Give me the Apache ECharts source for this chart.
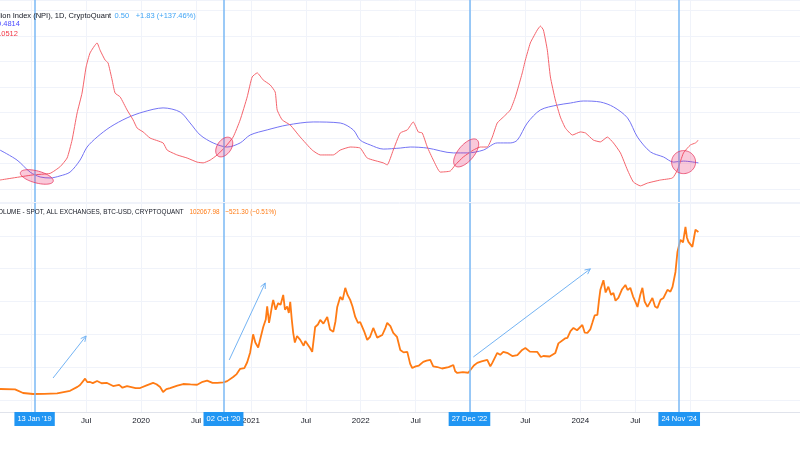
<!DOCTYPE html>
<html><head><meta charset="utf-8">
<script src="https://cdn.jsdelivr.net/npm/echarts@6/dist/echarts.min.js"></script>
<style>html,body{margin:0;padding:0;background:#fff}#c{width:800px;height:450px}</style>
</head><body><div id="c"></div>
<script>
// ---- data (x = decimal year) ----
const npiSeries = [[2018.715,-0.64],[2019.016,-0.44],[2019.171,-0.38],[2019.262,-0.12],[2019.326,0.22],[2019.371,0.92],[2019.417,1.98],[2019.462,2.76],[2019.499,3.78],[2019.535,4.33],[2019.599,4.72],[2019.626,4.44],[2019.672,4.05],[2019.699,3.94],[2019.736,3.27],[2019.763,2.76],[2019.809,2.61],[2019.872,2.10],[2019.927,1.71],[2019.964,1.39],[2020.018,1.24],[2020.082,1.00],[2020.200,0.81],[2020.237,0.53],[2020.328,0.34],[2020.419,0.22],[2020.510,0.06],[2020.565,0.03],[2020.629,0.14],[2020.693,0.34],[2020.765,0.65],[2020.838,1.04],[2020.902,1.71],[2020.966,2.61],[2021.011,3.39],[2021.057,3.55],[2021.112,3.27],[2021.175,3.08],[2021.221,2.80],[2021.239,2.10],[2021.285,1.71],[2021.358,1.51],[2021.449,1.04],[2021.558,0.53],[2021.631,0.34],[2021.750,0.34],[2021.813,0.53],[2021.904,0.65],[2021.995,0.61],[2022.059,0.22],[2022.205,0.03],[2022.241,-0.05],[2022.296,0.53],[2022.360,1.20],[2022.424,1.32],[2022.478,1.63],[2022.524,1.24],[2022.560,1.20],[2022.606,0.65],[2022.661,0.14],[2022.724,-0.33],[2022.815,-0.29],[2022.861,-0.05],[2022.934,0.26],[2023.025,0.53],[2023.088,0.65],[2023.152,0.65],[2023.198,1.04],[2023.243,1.59],[2023.298,1.82],[2023.362,2.10],[2023.408,2.61],[2023.435,3.00],[2023.471,3.55],[2023.499,4.05],[2023.544,4.72],[2023.572,4.95],[2023.608,5.23],[2023.636,5.38],[2023.663,5.23],[2023.699,4.44],[2023.727,3.39],[2023.772,2.49],[2023.818,1.82],[2023.864,1.39],[2023.928,1.12],[2024.000,1.24],[2024.046,1.20],[2024.119,0.92],[2024.182,0.85],[2024.246,1.04],[2024.301,0.81],[2024.365,0.42],[2024.429,-0.25],[2024.483,-0.72],[2024.547,-0.87],[2024.611,-0.76],[2024.729,-0.64],[2024.839,-0.56],[2024.884,-0.25],[2024.939,0.42],[2025.002,0.73],[2025.048,0.81],[2025.075,0.92]];
const npiAvgSeries = [[2018.715,0.53],[2018.870,0.14],[2018.989,-0.33],[2019.080,-0.52],[2019.171,-0.56],[2019.262,-0.48],[2019.353,-0.33],[2019.444,0.14],[2019.508,0.65],[2019.599,1.04],[2019.718,1.43],[2019.872,1.79],[2020.018,2.02],[2020.200,2.18],[2020.355,2.02],[2020.446,1.59],[2020.538,1.12],[2020.656,0.81],[2020.784,0.65],[2020.902,0.81],[2020.993,1.12],[2021.148,1.32],[2021.330,1.51],[2021.567,1.63],[2021.813,1.59],[2021.932,1.32],[2021.995,0.92],[2022.087,0.73],[2022.205,0.57],[2022.360,0.61],[2022.451,0.65],[2022.606,0.61],[2022.843,0.42],[2022.970,0.42],[2023.116,0.53],[2023.243,0.81],[2023.362,0.81],[2023.426,0.92],[2023.517,1.59],[2023.636,2.10],[2023.790,2.29],[2023.909,2.37],[2024.027,2.45],[2024.182,2.41],[2024.301,2.22],[2024.429,1.79],[2024.520,1.04],[2024.638,0.46],[2024.757,0.26],[2024.848,0.06],[2024.939,0.10],[2025.075,0.03]];
const btcSeries = [[2018.715,6700],[2018.852,6500],[2018.925,4270],[2019.016,3660],[2019.120,3700],[2019.235,4100],[2019.353,5600],[2019.420,8000],[2019.444,9150],[2019.490,13000],[2019.510,10900],[2019.535,11000],[2019.560,10300],[2019.599,11600],[2019.640,10200],[2019.690,10400],[2019.745,8500],[2019.800,9200],[2019.830,7500],[2019.872,8500],[2019.950,7200],[2019.991,7300],[2020.050,8900],[2020.109,10400],[2020.140,9600],[2020.173,7900],[2020.200,4900],[2020.230,6600],[2020.264,7300],[2020.330,8800],[2020.383,9750],[2020.450,9500],[2020.510,9300],[2020.560,11100],[2020.601,11800],[2020.650,10400],[2020.693,10500],[2020.750,10700],[2020.784,11500],[2020.838,14000],[2020.870,15800],[2020.902,19000],[2020.940,19400],[2020.966,23000],[2020.993,29000],[2021.020,40000],[2021.040,35000],[2021.066,32000],[2021.090,38500],[2021.112,44500],[2021.135,49000],[2021.148,57000],[2021.165,47000],[2021.175,50600],[2021.195,58500],[2021.203,61000],[2021.225,55000],[2021.248,59000],[2021.270,58000],[2021.294,64000],[2021.310,55000],[2021.330,57000],[2021.345,53000],[2021.358,59800],[2021.372,49000],[2021.385,40900],[2021.400,35000],[2021.420,39000],[2021.449,36600],[2021.480,33000],[2021.495,36000],[2021.512,34800],[2021.540,31500],[2021.558,29300],[2021.585,44500],[2021.610,46000],[2021.631,48800],[2021.660,46500],[2021.695,50600],[2021.720,43000],[2021.750,41500],[2021.770,48000],[2021.786,56700],[2021.813,62800],[2021.835,61000],[2021.859,68300],[2021.880,64000],[2021.904,61000],[2021.925,57000],[2021.950,50600],[2021.975,47000],[2021.995,47500],[2022.030,42000],[2022.059,36600],[2022.085,38500],[2022.114,43900],[2022.150,38000],[2022.196,39600],[2022.225,44000],[2022.241,47000],[2022.270,45000],[2022.296,40900],[2022.330,38500],[2022.360,30500],[2022.390,29000],[2022.424,29300],[2022.450,22000],[2022.469,19500],[2022.500,20500],[2022.530,21000],[2022.569,23200],[2022.600,24000],[2022.633,24400],[2022.660,20500],[2022.697,20100],[2022.740,19200],[2022.800,20000],[2022.843,21300],[2022.860,17500],[2022.879,16500],[2022.930,17000],[2022.979,16600],[2023.030,21000],[2023.061,22600],[2023.100,23500],[2023.152,24400],[2023.180,20500],[2023.198,22600],[2023.243,28700],[2023.270,27500],[2023.298,29300],[2023.340,28500],[2023.380,26800],[2023.426,27400],[2023.470,30500],[2023.499,31700],[2023.540,29500],[2023.608,29300],[2023.640,26200],[2023.663,26800],[2023.720,26500],[2023.772,28700],[2023.800,34500],[2023.818,35400],[2023.860,37500],[2023.882,37800],[2023.910,42000],[2023.937,43900],[2023.970,42500],[2024.018,45700],[2024.040,41000],[2024.064,40900],[2024.090,43000],[2024.109,47000],[2024.130,51500],[2024.155,51800],[2024.170,61000],[2024.182,67100],[2024.210,73000],[2024.230,65500],[2024.255,69000],[2024.280,64000],[2024.301,65200],[2024.320,60500],[2024.346,62200],[2024.380,67500],[2024.410,70100],[2024.430,67000],[2024.455,68300],[2024.480,63000],[2024.500,60000],[2024.520,56700],[2024.545,64000],[2024.565,68300],[2024.585,60000],[2024.611,56700],[2024.630,59000],[2024.656,62200],[2024.680,57000],[2024.702,56100],[2024.730,61000],[2024.757,62200],[2024.793,67100],[2024.820,66000],[2024.839,68900],[2024.866,78000],[2024.884,90200],[2024.911,97600],[2024.935,96000],[2024.957,105500],[2024.970,99000],[2024.984,96300],[2025.000,97500],[2025.020,93300],[2025.035,99000],[2025.048,103700],[2025.075,102400]];

// event markers (decimal year) and their labels
const eventYears = [2019.033, 2020.751, 2022.986, 2024.896];
const eventLabels = ["13 Jan '19", "02 Oct '20", "27 Dec '22", "24 Nov '24"];
// highlighted crossings [year, NPI value]
const crossCenters = [[2019.05,-0.52],[2020.757,0.65],[2022.96,0.42],[2024.94,0.06]];
// trend arrows [startYear, startPrice, endYear, endPrice]
const trendArrows = [[2019.198,13400,2019.499,39000],[2020.802,24400,2021.130,71300],[2023.025,26200,2024.091,79900]];
const monthTick = 'Jul';
const lastLabeledYear = 2025; // time scale labels/grid stop after data

// ---- styles ----
const ellipseShapes = [[17,6,15],[11,7,-55],[17,8,-50],[12,11.5,0]]; // rx, ry, rotation(deg)
const FONT = 'Liberation Sans';
const LEFT = -23.6;
const gridColor = '#f0f3fa';
const vLine = {color:'#7ab8f5', width:1.5, type:'solid'};
const X_MIN = 2018.5, X_MAX = 2026, X_STEP = 0.5;
const vGridColors = [];
for (let t = X_MIN; t <= X_MAX + 1e-9; t += X_STEP) vGridColors.push(t > lastLabeledYear + 0.1 ? 'rgba(0,0,0,0)' : gridColor);

const chart = echarts.init(document.getElementById('c'));
const xCommon = {type:'value', min:X_MIN, max:X_MAX, interval:X_STEP, axisTick:{show:false},
  splitLine:{show:true, lineStyle:{color:vGridColors, width:1}}};
chart.setOption({
  animation:false,
  backgroundColor:'#ffffff',
  grid:[
    {left:LEFT, right:0, top:0, height:202, outerBoundsMode:'none'},
    {left:LEFT, right:0, top:203, height:209, outerBoundsMode:'none'}
  ],
  xAxis:[
    Object.assign({gridIndex:0, axisLine:{show:false, onZero:false}, axisLabel:{show:false}}, xCommon),
    Object.assign({gridIndex:1, axisLine:{show:true, onZero:false, lineStyle:{color:'#e0e3eb'}},
      axisLabel:{show:true, showMinLabel:false, showMaxLabel:false, color:'#131722', fontSize:8, fontFamily:FONT, margin:5,
        formatter:v => v > lastLabeledYear + 0.1 ? '' : (Math.abs(v - Math.round(v)) < 1e-6 ? String(Math.round(v)) : monthTick)}}, xCommon)
  ],
  yAxis:[
    {type:'value', gridIndex:0, min:-1.5, max:6.4, splitNumber:8, axisLine:{show:false}, axisTick:{show:false}, axisLabel:{show:false},
      splitLine:{lineStyle:{color:gridColor}}},
    {type:'value', gridIndex:1, min:-7300, max:120000, splitNumber:6, axisLine:{show:false}, axisTick:{show:false}, axisLabel:{show:false},
      splitLine:{lineStyle:{color:gridColor}}}
  ],
  series:[
    {type:'line', name:'NPI avg', xAxisIndex:0, yAxisIndex:0, data:npiAvgSeries, showSymbol:false, smooth:0.3,
      lineStyle:{color:'#7474f4', width:1}, z:3},
    {type:'line', name:'NPI', xAxisIndex:0, yAxisIndex:0, data:npiSeries, showSymbol:false, smooth:0.15,
      lineStyle:{color:'#f4646c', width:1}, z:4,
      markLine:{silent:true, symbol:['none','none'], label:{show:false}, lineStyle:vLine,
        data:eventYears.map(y => ({xAxis:y}))}},
    {type:'custom', name:'crossings', xAxisIndex:0, yAxisIndex:0, z:6,
      data:crossCenters.map((c,i) => [c[0], c[1], i]),
      renderItem:(params, api) => {
        const c = api.coord([api.value(0), api.value(1)]);
        const s = ellipseShapes[api.value(2)];
        const r = s[2]*Math.PI/180, pts = [];
        for (let k = 0; k < 60; k++) {
          const t = k/60*2*Math.PI, ex = s[0]*Math.cos(t), ey = s[1]*Math.sin(t);
          pts.push([c[0] + ex*Math.cos(r) - ey*Math.sin(r), c[1] + ex*Math.sin(r) + ey*Math.cos(r)]);
        }
        return {type:'polygon', shape:{points:pts}, style:{fill:'rgba(233,30,99,0.24)', stroke:'rgba(230,50,90,0.75)', lineWidth:1}};
      }},
    {type:'line', name:'BTC', xAxisIndex:1, yAxisIndex:1, data:btcSeries, showSymbol:false,
      lineStyle:{color:'#ff7b14', width:1.8}, z:4,
      markLine:{silent:true, symbol:['none','none'], lineStyle:vLine,
        label:{show:true, position:'start', distance:0, formatter:'{b}', backgroundColor:'#2196f3', color:'#ffffff',
          fontSize:7.5, fontFamily:FONT, padding:[3,3,3,3]},
        data:eventYears.map((y,i) => ({xAxis:y, name:eventLabels[i]}))}},
    {type:'custom', name:'arrows', xAxisIndex:1, yAxisIndex:1, z:6,
      data:trendArrows, encode:{x:[0,2], y:[1,3]},
      renderItem:(params, api) => {
        const p1 = api.coord([api.value(0), api.value(1)]);
        const p2 = api.coord([api.value(2), api.value(3)]);
        const a = Math.atan2(p2[1]-p1[1], p2[0]-p1[0]), L = 6, sp = 0.45;
        const h1 = [p2[0] - L*Math.cos(a - sp), p2[1] - L*Math.sin(a - sp)];
        const h2 = [p2[0] - L*Math.cos(a + sp), p2[1] - L*Math.sin(a + sp)];
        const st = {stroke:'#74b4f4', lineWidth:1, fill:null};
        return {type:'group', children:[
          {type:'line', shape:{x1:p1[0], y1:p1[1], x2:p2[0], y2:p2[1]}, style:st},
          {type:'polyline', shape:{points:[h1, p2, h2]}, style:st}
        ]};
      }}
  ],
  graphic:[
    {type:'text', x:-1, y:10, z:10, style:{text:'{a|lion Index (NPI), 1D, CryptoQuant} {b|0.50}  {b|+1.83 (+137.46%)}',
      rich:{a:{fill:'#131722', font:'7.5px "Liberation Sans"'}, b:{fill:'#42a5f5', font:'7.5px "Liberation Sans"'}}}},
    {type:'text', x:-3, y:20, z:10, style:{text:'0.4814', fill:'#4b4bff', font:'7.5px "Liberation Sans"'}},
    {type:'text', x:-5, y:30, z:10, style:{text:'1.0512', fill:'#f23645', font:'7.5px "Liberation Sans"'}},
    {type:'text', x:-2, y:206, z:10, scaleX:0.85, style:{text:'{a|OLUME - SPOT, ALL EXCHANGES, BTC-USD, CRYPTOQUANT}  {b|102067.98}  {b|\u2212521.30 (\u22120.51%)}',
      rich:{a:{fill:'#131722', font:'7.5px "Liberation Sans"'}, b:{fill:'#ff7b14', font:'7.5px "Liberation Sans"'}}}}
  ]
});
</script></body></html>
